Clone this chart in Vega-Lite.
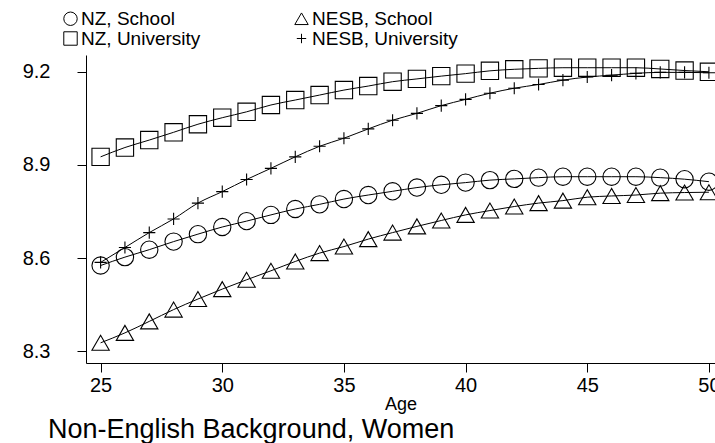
{
  "$schema": "https://vega.github.io/schema/vega-lite/v6.json",
  "width": 629,
  "height": 308,
  "autosize": "none",
  "padding": {"left": 86, "top": 55, "right": 0, "bottom": 80},
  "background": "white",
  "config": {"view": {"stroke": null}, "font": "Liberation Sans"},
  "title": {"text": "Non-English Background, Women", "orient": "bottom", "anchor": "start", "frame": "group", "dx": -38, "offset": 4, "fontSize": 27, "fontWeight": "normal", "color": "black", "font": "Liberation Sans"},
  "data": {"values": [
    {"group": "NZ, School", "age": 25, "wage": 8.576}, {"group": "NZ, School", "age": 26, "wage": 8.603}, {"group": "NZ, School", "age": 27, "wage": 8.627}, {"group": "NZ, School", "age": 28, "wage": 8.653}, {"group": "NZ, School", "age": 29, "wage": 8.677}, {"group": "NZ, School", "age": 30, "wage": 8.700}, {"group": "NZ, School", "age": 31, "wage": 8.719}, {"group": "NZ, School", "age": 32, "wage": 8.739}, {"group": "NZ, School", "age": 33, "wage": 8.758}, {"group": "NZ, School", "age": 34, "wage": 8.773}, {"group": "NZ, School", "age": 35, "wage": 8.790}, {"group": "NZ, School", "age": 36, "wage": 8.803}, {"group": "NZ, School", "age": 37, "wage": 8.815}, {"group": "NZ, School", "age": 38, "wage": 8.827}, {"group": "NZ, School", "age": 39, "wage": 8.836}, {"group": "NZ, School", "age": 40, "wage": 8.843}, {"group": "NZ, School", "age": 41, "wage": 8.851}, {"group": "NZ, School", "age": 42, "wage": 8.855}, {"group": "NZ, School", "age": 43, "wage": 8.859}, {"group": "NZ, School", "age": 44, "wage": 8.862}, {"group": "NZ, School", "age": 45, "wage": 8.862}, {"group": "NZ, School", "age": 46, "wage": 8.862}, {"group": "NZ, School", "age": 47, "wage": 8.862}, {"group": "NZ, School", "age": 48, "wage": 8.859}, {"group": "NZ, School", "age": 49, "wage": 8.854}, {"group": "NZ, School", "age": 50, "wage": 8.846},
    {"group": "NZ, University", "age": 25, "wage": 8.926}, {"group": "NZ, University", "age": 26, "wage": 8.956}, {"group": "NZ, University", "age": 27, "wage": 8.980}, {"group": "NZ, University", "age": 28, "wage": 9.005}, {"group": "NZ, University", "age": 29, "wage": 9.031}, {"group": "NZ, University", "age": 30, "wage": 9.052}, {"group": "NZ, University", "age": 31, "wage": 9.071}, {"group": "NZ, University", "age": 32, "wage": 9.093}, {"group": "NZ, University", "age": 33, "wage": 9.109}, {"group": "NZ, University", "age": 34, "wage": 9.125}, {"group": "NZ, University", "age": 35, "wage": 9.141}, {"group": "NZ, University", "age": 36, "wage": 9.154}, {"group": "NZ, University", "age": 37, "wage": 9.168}, {"group": "NZ, University", "age": 38, "wage": 9.177}, {"group": "NZ, University", "age": 39, "wage": 9.186}, {"group": "NZ, University", "age": 40, "wage": 9.194}, {"group": "NZ, University", "age": 41, "wage": 9.203}, {"group": "NZ, University", "age": 42, "wage": 9.208}, {"group": "NZ, University", "age": 43, "wage": 9.211}, {"group": "NZ, University", "age": 44, "wage": 9.213}, {"group": "NZ, University", "age": 45, "wage": 9.213}, {"group": "NZ, University", "age": 46, "wage": 9.213}, {"group": "NZ, University", "age": 47, "wage": 9.213}, {"group": "NZ, University", "age": 48, "wage": 9.209}, {"group": "NZ, University", "age": 49, "wage": 9.204}, {"group": "NZ, University", "age": 50, "wage": 9.200},
    {"group": "NESB, School", "age": 25, "wage": 8.327}, {"group": "NESB, School", "age": 26, "wage": 8.359}, {"group": "NESB, School", "age": 27, "wage": 8.396}, {"group": "NESB, School", "age": 28, "wage": 8.434}, {"group": "NESB, School", "age": 29, "wage": 8.468}, {"group": "NESB, School", "age": 30, "wage": 8.500}, {"group": "NESB, School", "age": 31, "wage": 8.530}, {"group": "NESB, School", "age": 32, "wage": 8.559}, {"group": "NESB, School", "age": 33, "wage": 8.589}, {"group": "NESB, School", "age": 34, "wage": 8.616}, {"group": "NESB, School", "age": 35, "wage": 8.637}, {"group": "NESB, School", "age": 36, "wage": 8.661}, {"group": "NESB, School", "age": 37, "wage": 8.682}, {"group": "NESB, School", "age": 38, "wage": 8.702}, {"group": "NESB, School", "age": 39, "wage": 8.721}, {"group": "NESB, School", "age": 40, "wage": 8.739}, {"group": "NESB, School", "age": 41, "wage": 8.753}, {"group": "NESB, School", "age": 42, "wage": 8.766}, {"group": "NESB, School", "age": 43, "wage": 8.777}, {"group": "NESB, School", "age": 44, "wage": 8.785}, {"group": "NESB, School", "age": 45, "wage": 8.796}, {"group": "NESB, School", "age": 46, "wage": 8.800}, {"group": "NESB, School", "age": 47, "wage": 8.803}, {"group": "NESB, School", "age": 48, "wage": 8.809}, {"group": "NESB, School", "age": 49, "wage": 8.811}, {"group": "NESB, School", "age": 50, "wage": 8.812},
    {"group": "NESB, University", "age": 25, "wage": 8.586}, {"group": "NESB, University", "age": 26, "wage": 8.634}, {"group": "NESB, University", "age": 27, "wage": 8.682}, {"group": "NESB, University", "age": 28, "wage": 8.726}, {"group": "NESB, University", "age": 29, "wage": 8.777}, {"group": "NESB, University", "age": 30, "wage": 8.814}, {"group": "NESB, University", "age": 31, "wage": 8.853}, {"group": "NESB, University", "age": 32, "wage": 8.889}, {"group": "NESB, University", "age": 33, "wage": 8.926}, {"group": "NESB, University", "age": 34, "wage": 8.960}, {"group": "NESB, University", "age": 35, "wage": 8.986}, {"group": "NESB, University", "age": 36, "wage": 9.016}, {"group": "NESB, University", "age": 37, "wage": 9.044}, {"group": "NESB, University", "age": 38, "wage": 9.066}, {"group": "NESB, University", "age": 39, "wage": 9.091}, {"group": "NESB, University", "age": 40, "wage": 9.111}, {"group": "NESB, University", "age": 41, "wage": 9.131}, {"group": "NESB, University", "age": 42, "wage": 9.147}, {"group": "NESB, University", "age": 43, "wage": 9.159}, {"group": "NESB, University", "age": 44, "wage": 9.173}, {"group": "NESB, University", "age": 45, "wage": 9.183}, {"group": "NESB, University", "age": 46, "wage": 9.189}, {"group": "NESB, University", "age": 47, "wage": 9.195}, {"group": "NESB, University", "age": 48, "wage": 9.198}, {"group": "NESB, University", "age": 49, "wage": 9.198}, {"group": "NESB, University", "age": 50, "wage": 9.197}
  ]},
  "encoding": {
    "x": {"field": "age", "type": "quantitative", "scale": {"domain": [24.4, 50.25], "nice": false, "zero": false},
      "axis": {"title": "Age", "values": [25, 30, 35, 40, 45, 50], "grid": false, "domainColor": "black", "tickColor": "black", "tickSize": 9, "labelFontSize": 20, "labelColor": "black", "labelPadding": 3, "labelFont": "Liberation Sans", "titleFont": "Liberation Sans", "titleFontSize": 18, "titleFontWeight": "normal", "titleColor": "black", "titlePadding": 0}},
    "y": {"field": "wage", "type": "quantitative", "scale": {"domain": [8.262, 9.254], "nice": false, "zero": false},
      "axis": {"title": null, "values": [8.3, 8.6, 8.9, 9.2], "format": ".1f", "grid": false, "domainColor": "black", "tickColor": "black", "tickSize": 9, "labelFontSize": 20, "labelColor": "black", "labelPadding": 27, "labelFont": "Liberation Sans"}}
  },
  "layer": [
    {"mark": {"type": "line", "interpolate": "monotone", "color": "black", "strokeWidth": 1}, "encoding": {"detail": {"field": "group", "type": "nominal"}}},
    {"mark": {"type": "point", "filled": false, "color": "black", "strokeWidth": 1.1, "size": 300, "opacity": 1},
      "encoding": {"shape": {"field": "group", "type": "nominal",
        "scale": {"domain": ["NZ, School", "NESB, School", "NZ, University", "NESB, University"], "range": ["circle", "triangle-up", "square", "M-0.7,0H0.7M0,-0.7V0.7"]},
        "legend": {"orient": "none", "legendX": -25, "legendY": -46, "columns": 2, "direction": "horizontal", "title": null, "labelFontSize": 19, "labelFont": "Liberation Sans", "labelColor": "black", "symbolSize": 180, "symbolStrokeWidth": 1, "symbolStrokeColor": "black", "symbolFillColor": "transparent", "labelOffset": 1, "columnPadding": 91, "rowPadding": 0, "padding": 0}}}}
  ]
}
